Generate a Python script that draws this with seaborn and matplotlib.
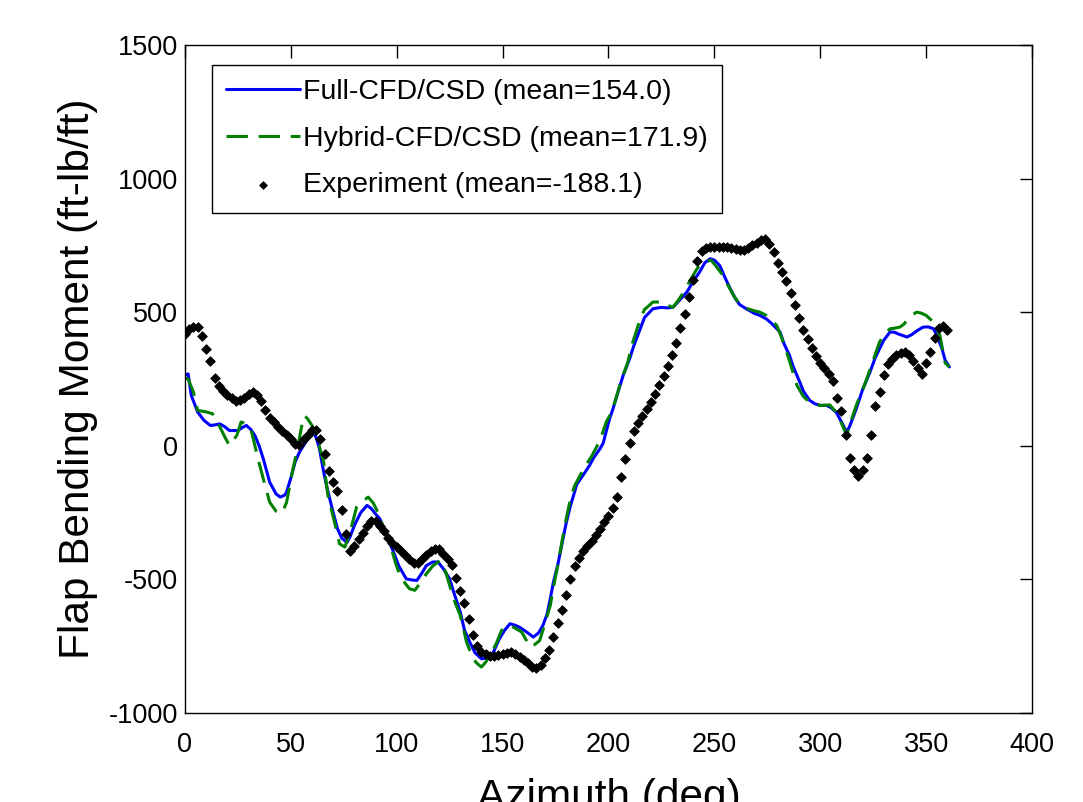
import matplotlib
matplotlib.use("Agg")
import matplotlib.pyplot as plt
import numpy as np
import seaborn as sns

# Full-CFD/CSD (azimuth deg, moment ft-lb/ft)
full_az = [0, 1.5, 3, 6, 9, 12, 14, 16.5, 19, 21, 25, 27, 29, 31, 33, 35, 37, 40, 43, 45,
           47, 48, 50, 52, 54, 56, 58, 60.5, 62, 63.5, 65.5, 67, 70, 72, 74, 76.5, 78, 80, 83, 86,
           88, 90, 92, 95, 98.5, 101, 104.5, 107, 109.5, 112, 114, 117, 119.5, 122, 125, 127, 130, 132, 134.5, 137,
           140, 142, 145, 147, 148.5, 151, 153.5, 156, 158, 161, 164.5, 167, 169, 171, 172.5, 174, 176, 178, 180, 182,
           183.5, 185, 188, 191, 193, 196, 197.5, 199, 200.5, 202, 204.5, 207, 210, 212, 215, 217, 221, 225,
           228, 230.5, 233, 237, 240, 243, 245.5, 248, 250, 252.5, 255, 257.5, 260, 262, 265, 269, 271.5, 274.5,
           277, 279.5, 281, 283, 285.5, 287, 290.5, 292, 295, 297.5, 300, 303, 305, 307.5, 310, 312.5, 314, 317,
           320, 323.5, 326, 328, 330, 333, 335, 337, 341, 343, 346, 348.5, 351, 353.5, 355, 357.5, 359, 361]
full_val = [265, 269, 188, 126, 95, 76, 78, 82, 70, 57, 57, 68, 76, 62, 39, 0, -49, -136, -180, -192,
            -185, -173, -120, -61, -25, 1, 25, 50, 30, -11, -98, -155, -250, -310, -345, -362, -340, -298, -250, -223,
            -235, -255, -273, -330, -398, -450, -498, -502, -504, -475, -448, -435, -435, -460, -498, -550, -622, -690, -735, -775,
            -797, -795, -785, -748, -722, -690, -666, -672, -679, -695, -716, -700, -673, -630, -573, -510, -448, -370, -290, -225,
            -186, -145, -110, -74, -45, -11, 10, 55, 101, 135, 201, 265, 326, 375, 438, 480, 513, 518,
            516, 519, 540, 575, 615, 650, 685, 700, 695, 675, 630, 588, 550, 528, 513, 495, 488, 475,
            458, 438, 426, 380, 338, 301, 235, 205, 170, 157, 151, 151, 143, 126, 90, 51, 75, 138,
            210, 276, 330, 363, 395, 426, 425, 418, 407, 415, 432, 444, 445, 438, 415, 363, 320, 295]

# Hybrid-CFD/CSD
hyb_az = [0, 1.5, 4, 6, 9.5, 13, 16.5, 19, 21, 24.5, 26.5, 29, 31.5, 34.5, 37, 40, 43, 45, 46.5, 48,
          51, 53.5, 55, 56.5, 58, 60, 62, 65.5, 67.5, 71, 73, 75.5, 78, 81, 83.5, 86.5, 89, 91, 94, 97.5,
          99.5, 101.5, 104, 106, 108.5, 111, 114, 117, 120.5, 123, 125, 127, 130, 133, 136, 138, 140, 142, 144, 147,
          149.5, 151.5, 153.5, 156, 159, 161, 163, 165, 167.5, 170, 172.5, 174, 176, 178, 180, 182, 184, 187, 189.5, 192,
          194, 196, 199, 201.5, 204, 206, 209, 211.5, 215, 217, 221, 226, 228, 230.5, 233, 235.5, 239, 242, 244.5, 248.5,
          251, 254, 256.5, 259, 262, 265, 268.5, 271.5, 274.5, 277, 279.5, 282, 285, 289, 292, 295, 300, 304.5, 307.5, 310,
          312.5, 314, 317, 319.5, 322, 325, 328, 330.5, 333, 335, 337.5, 339.5, 341.5, 343.5, 345.5, 347.5, 350, 353.5,
          356.5, 359, 361]
hyb_val = [255, 250, 201, 132, 128, 120, 70, 30, 1, 39, 89, 82, 51, -49, -124, -211, -245, -254, -240, -211,
           -86, 1, 70, 113, 100, 76, 39, -61, -186, -298, -367, -379, -323, -230, -211, -192, -215, -248, -310, -385,
           -440, -485, -515, -535, -541, -515, -479, -450, -429, -470, -523, -575, -635, -735, -797, -815, -828, -810, -785, -740,
           -691, -678, -672, -683, -697, -725, -753, -745, -729, -665, -598, -530, -450, -360, -275, -200, -150, -105, -70, -40,
           -10, 20, 90, 126, 190, 245, 310, 388, 475, 510, 538, 538, 525, 519, 545, 575, 625, 665, 688, 694,
           670, 638, 600, 563, 530, 515, 506, 500, 488, 470, 450, 400, 330, 226, 185, 163, 151, 153, 126, 85,
           39, 80, 151, 200, 251, 320, 388, 420, 438, 440, 444, 455, 475, 490, 500, 497, 488, 463,
           413, 310, 295]

# Experiment, sampled every 2 deg from 0 to 360
exp_az = np.arange(0, 361, 2)
exp_val = [420, 436, 445, 445, 412, 362, 318, 255, 225, 205,
           190, 178, 167, 170, 180, 195, 200, 190, 168, 135,
           104, 88, 72, 56, 42, 26, 8, 4, 25, 40,
           58, 60, 25, -30, -95, -135, -168, -240, -330, -392,
           -375, -350, -325, -300, -282, -282, -300, -320, -345, -362,
           -380, -395, -410, -425, -440, -440, -425, -410, -395, -385,
           -388, -405, -425, -448, -495, -545, -590, -650, -710, -750,
           -770, -780, -785, -785, -782, -780, -775, -772, -780, -790,
           -800, -812, -828, -830, -820, -795, -765, -715, -665, -615,
           -560, -500, -450, -420, -395, -375, -355, -335, -310, -285,
           -261, -232, -190, -115, -50, 10, 55, 85, 110, 138,
           165, 195, 228, 262, 300, 340, 385, 440, 493, 555,
           620, 690, 728, 742, 744, 744, 744, 744, 743, 742,
           738, 732, 732, 740, 750, 760, 770, 775, 755, 725,
           685, 650, 615, 572, 528, 480, 435, 400, 365, 335,
           310, 290, 270, 242, 180, 130, 40, -45, -90, -112,
           -90, -45, 40, 150, 200, 265, 305, 325, 338, 348,
           351, 338, 318, 290, 269, 310, 350, 405, 440, 448,
           432]

labels = ["Full-CFD/CSD (mean=154.0)",
          "Hybrid-CFD/CSD (mean=171.9)",
          "Experiment (mean=-188.1)"]

sns.set_style("white")
plt.rcParams['font.family'] = ['Liberation Sans', 'DejaVu Sans']
plt.rcParams['axes.unicode_minus'] = False
plt.rcParams['text.color'] = 'k'
plt.rcParams['axes.labelcolor'] = 'k'

fig = plt.figure(figsize=(10.83, 8.02), dpi=100)
ax = fig.add_axes([0.1708, 0.1110, 0.7821, 0.8329])

sns.lineplot(x=full_az, y=full_val, color=(0, 0, 1), linewidth=2.2,
             estimator=None, sort=False, label=labels[0], ax=ax)
sns.lineplot(x=hyb_az, y=hyb_val, color=(0, 0.5, 0), linewidth=2.2,
             linestyle=(0, (7, 3.5)), estimator=None, sort=False,
             label=labels[1], ax=ax)
sns.scatterplot(x=exp_az, y=exp_val, color='k', marker='D', s=24,
                edgecolor='k', linewidth=0.6, label=labels[2], ax=ax, zorder=3)

ax.set_xlim(0, 400)
ax.set_ylim(-1000, 1500)
ax.set_xticks(np.arange(0, 401, 50))
ax.set_yticks(np.arange(-1000, 1501, 500))
ax.tick_params(direction='in', top=True, right=True, length=9, width=1,
               labelsize=19.5, colors='k')
ax.tick_params(axis='x', pad=14)
ax.tick_params(axis='y', pad=5)
for s in ax.spines.values():
    s.set_visible(True)
    s.set_color('k')
    s.set_linewidth(1)

ax.set_xlabel("Azimuth (deg)", fontsize=30.5, labelpad=14)
ax.set_ylabel("Flap Bending Moment (ft-lb/ft)", fontsize=30.5, labelpad=8)

leg = ax.legend(loc='upper left', bbox_to_anchor=(0.032, 0.970), borderaxespad=0,
                fontsize=20.5, handlelength=2.6, handletextpad=0.1,
                labelspacing=0.72, borderpad=0.5, fancybox=False,
                frameon=True, edgecolor='k', framealpha=1, markerscale=0.8)
leg.get_frame().set_linewidth(1)

fig.savefig("out.png", dpi=100)
